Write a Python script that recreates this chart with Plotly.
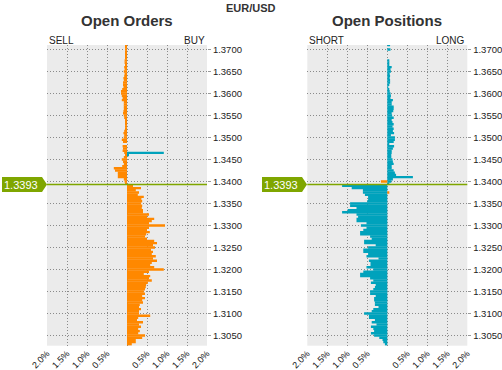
import numpy as np
import plotly.graph_objects as go

# ---------------- data ----------------
current_price = 1.3393
price_ticks = [1.3050, 1.3100, 1.3150, 1.3200, 1.3250, 1.3300, 1.3350,
               1.3400, 1.3450, 1.3500, 1.3550, 1.3600, 1.3650, 1.3700]
pct_ticks = [-2.0, -1.5, -1.0, -0.5, 0.0, 0.5, 1.0, 1.5, 2.0]
pct_labels = ["2.0%", "1.5%", "1.0%", "0.5%", "", "0.5%", "1.0%", "1.5%", "2.0%"]

# price levels (bins of 0.0005)
levels_above = [round(1.3710 - 0.0005 * k, 4) for k in range(64)]   # 1.3710 .. 1.3395
levels_below = [round(1.3390 - 0.0005 * k, 4) for k in range(73)]   # 1.3390 .. 1.3030

# Open Orders: sell orders above price (%), buy orders below price (%)
orders_sell_above = [0.03, 0.04, 0.05, 0.03, 0.04, 0.03, 0.05, 0.06, 0.06, 0.05,
                     0.07, 0.06, 0.08, 0.06, 0.07, 0.09, 0.08, 0.10, 0.10, 0.09,
                     0.12, 0.15, 0.15, 0.13, 0.11, 0.13, 0.08, 0.08, 0.08, 0.08,
                     0.09, 0.10, 0.08, 0.07, 0.05, 0.03, 0.05, 0.04, 0.05, 0.07,
                     0.09, 0.07, 0.08, 0.13, 0.10, 0.00, 0.11, 0.10, 0.11, 0.07,
                     0.05, 0.08, 0.13, 0.10, 0.08, 0.12, 0.33, 0.30, 0.23, 0.23,
                     0.23, 0.08, 0.06, 0.05]
orders_buy_below = [0.15, 0.35, 0.22, 0.30, 0.27, 0.42, 0.36, 0.38, 0.35, 0.38,
                    0.37, 0.40, 0.40, 0.55, 0.50, 0.68, 0.62, 0.55, 0.95, 0.55,
                    0.50, 0.57, 0.48, 0.45, 0.50, 0.68, 0.75, 0.65, 0.70, 0.60,
                    0.65, 0.62, 0.72, 0.65, 0.75, 0.62, 0.58, 0.68, 0.92, 0.55,
                    0.42, 0.58, 0.55, 0.62, 0.52, 0.48, 0.47, 0.45, 0.42, 0.45,
                    0.38, 0.45, 0.38, 0.40, 0.32, 0.30, 0.35, 0.30, 0.30, 0.58,
                    0.28, 0.25, 0.40, 0.30, 0.35, 0.28, 0.32, 0.28, 0.45, 0.38,
                    0.22, 0.22, 0.12]
orders_buy_above_levels = [1.3465, 1.3460]
orders_buy_above = [0.92, 0.05]

# Open Positions: long above price (%), short below price (%)
positions_long_above = [0.07, 0.00, 0.08, 0.00, 0.00, 0.00, 0.00, 0.03, 0.04, 0.04,
                        0.11, 0.08, 0.09, 0.06, 0.07, 0.06, 0.07, 0.07, 0.04, 0.02,
                        0.05, 0.06, 0.08, 0.09, 0.08, 0.14, 0.11, 0.11, 0.16, 0.16,
                        0.15, 0.11, 0.12, 0.16, 0.11, 0.13, 0.16, 0.13, 0.16, 0.14,
                        0.17, 0.09, 0.19, 0.19, 0.16, 0.04, 0.17, 0.14, 0.11, 0.11,
                        0.10, 0.10, 0.13, 0.14, 0.16, 0.11, 0.11, 0.16, 0.19, 0.22,
                        0.64, 0.14, 0.10, 0.03]
positions_short_below = [1.13, 0.89, 0.61, 0.61, 0.56, 0.48, 0.48, 0.50, 0.93, 0.93,
                         0.77, 0.99, 1.13, 0.77, 0.73, 0.77, 0.77, 0.52, 0.66, 0.52,
                         0.60, 0.68, 0.68, 0.43, 0.39, 0.58, 0.58, 0.29, 0.48, 0.60,
                         0.60, 0.48, 0.52, 0.22, 0.46, 0.42, 0.42, 0.52, 0.35, 0.60,
                         0.68, 0.68, 0.43, 0.35, 0.41, 0.29, 0.31, 0.35, 0.43, 0.43,
                         0.29, 0.33, 0.33, 0.31, 0.31, 0.22, 0.35, 0.39, 0.58, 0.46,
                         0.46, 0.31, 0.39, 0.27, 0.41, 0.35, 0.33, 0.41, 0.33, 0.20,
                         0.12, 0.10, 0.06]
positions_short_above_levels = [1.3400]
positions_short_above = [0.16]
positions_long_below_levels = [1.3375]
positions_long_below = [0.05]

# ---------------- styling ----------------
ORANGE = "#FF8800"
TEAL = "#00A2BC"
GREEN = "#7FA600"
BG = "#EBEBEB"
GRID = "#8A8A8A"
FONT = "Liberation Sans, Arial, sans-serif"
W, H = 502, 370
BAR_W = 0.00054
DOT = "1px,2px"

def hbar(levels, values, color, xa, ya, sign):
    return go.Bar(y=levels, x=[sign * v for v in values], orientation="h",
                  width=BAR_W, marker=dict(color=color, line=dict(width=0)),
                  xaxis=xa, yaxis=ya, hoverinfo="skip", showlegend=False)

fig = go.Figure()
# left panel
fig.add_trace(hbar(levels_above, orders_sell_above, ORANGE, "x", "y", -1))
fig.add_trace(hbar(levels_below, orders_buy_below, ORANGE, "x", "y", 1))
fig.add_trace(hbar(orders_buy_above_levels, orders_buy_above, TEAL, "x", "y", 1))
# right panel
fig.add_trace(hbar(levels_above, positions_long_above, TEAL, "x2", "y2", 1))
fig.add_trace(hbar(levels_below, positions_short_below, TEAL, "x2", "y2", -1))
fig.add_trace(hbar(positions_short_above_levels, positions_short_above, ORANGE, "x2", "y2", -1))
fig.add_trace(hbar(positions_long_below_levels, positions_long_below, ORANGE, "x2", "y2", 1))

y_top_px, y_bot_px = 45.0, 345.7
y_range = [1.30268, 1.37102]
ydom = [(H - y_bot_px) / H, (H - y_top_px) / H]
left_dom = [47 / W, 207 / W]
right_dom = [307.3 / W, 467.3 / W]

xaxis_common = dict(range=[-2, 2], tickvals=pct_ticks, ticktext=pct_labels,
                    tickangle=-45, showgrid=True, gridcolor=GRID, griddash=DOT,
                    gridwidth=1, zeroline=False, showline=False, ticks="",
                    tickfont=dict(family=FONT, size=9, color="#111"),
                    automargin=False, fixedrange=True)
yaxis_common = dict(range=y_range, tickvals=price_ticks,
                    ticktext=["%.4f" % p for p in price_ticks], side="right",
                    showgrid=True, gridcolor=GRID, griddash=DOT, gridwidth=1,
                    zeroline=False, showline=False, ticks="outside", ticklen=3,
                    tickcolor="#999", tickfont=dict(family=FONT, size=9.5, color="#222"),
                    domain=ydom, automargin=False, fixedrange=True)

fig.update_layout(
    width=W, height=H, margin=dict(l=0, r=0, t=0, b=0, autoexpand=False),
    paper_bgcolor="white", plot_bgcolor=BG, barmode="overlay",
    xaxis=dict(domain=left_dom, anchor="y", **xaxis_common),
    yaxis=dict(anchor="x", **yaxis_common),
    xaxis2=dict(domain=right_dom, anchor="y2", **xaxis_common),
    yaxis2=dict(anchor="x2", **yaxis_common),
    showlegend=False,
)

annotations = [
    dict(text="<b>EUR/USD</b>", x=251 / W, y=1 - 8 / H, xref="paper", yref="paper",
         showarrow=False, font=dict(family=FONT, size=11, color="#333"),
         xanchor="center", yanchor="middle"),
    dict(text="<b>Open Orders</b>", x=127 / W, y=1 - 21 / H, xref="paper", yref="paper",
         showarrow=False, font=dict(family=FONT, size=15, color="#333"),
         xanchor="center", yanchor="middle"),
    dict(text="<b>Open Positions</b>", x=387.3 / W, y=1 - 21 / H, xref="paper", yref="paper",
         showarrow=False, font=dict(family=FONT, size=15, color="#333"),
         xanchor="center", yanchor="middle"),
    dict(text="SELL", x=47 / W, y=1 - 40 / H, xref="paper", yref="paper", showarrow=False,
         font=dict(family=FONT, size=10, color="#222"), xanchor="left", yanchor="middle"),
    dict(text="BUY", x=207 / W, y=1 - 40 / H, xref="paper", yref="paper", showarrow=False,
         font=dict(family=FONT, size=10, color="#222"), xanchor="right", yanchor="middle"),
    dict(text="SHORT", x=307.3 / W, y=1 - 40 / H, xref="paper", yref="paper", showarrow=False,
         font=dict(family=FONT, size=10, color="#222"), xanchor="left", yanchor="middle"),
    dict(text="LONG", x=467.3 / W, y=1 - 40 / H, xref="paper", yref="paper", showarrow=False,
         font=dict(family=FONT, size=10, color="#222"), xanchor="right", yanchor="middle"),
]

shapes = []
for xa, ya, lab_x0 in (("x", "y", 2), ("x2", "y2", 262)):
    # current price line across the plot
    shapes.append(dict(type="line", xref=xa + " domain", yref=ya, x0=0, x1=1,
                       y0=current_price, y1=current_price,
                       line=dict(color=GREEN, width=1.5), layer="above"))
    # arrow-shaped price label
    shapes.append(dict(type="path", xref="paper", yref=ya,
                       xsizemode="pixel", ysizemode="pixel",
                       xanchor=lab_x0 / W, yanchor=current_price,
                       path="M0,-7.5 L40,-7.5 L45,0 L40,7.5 L0,7.5 Z",
                       fillcolor=GREEN, line=dict(width=0), layer="above"))
    annotations.append(dict(text=str(current_price), x=(lab_x0 + 19) / W, y=current_price,
                            xref="paper", yref=ya, showarrow=False,
                            font=dict(family=FONT, size=11, color="white"),
                            xanchor="center", yanchor="middle"))

fig.update_layout(annotations=annotations, shapes=shapes)
fig.write_html("out.html", config={"displayModeBar": False},
               post_script="document.body.style.margin='0';"
                           "document.body.style.overflow='hidden';")
